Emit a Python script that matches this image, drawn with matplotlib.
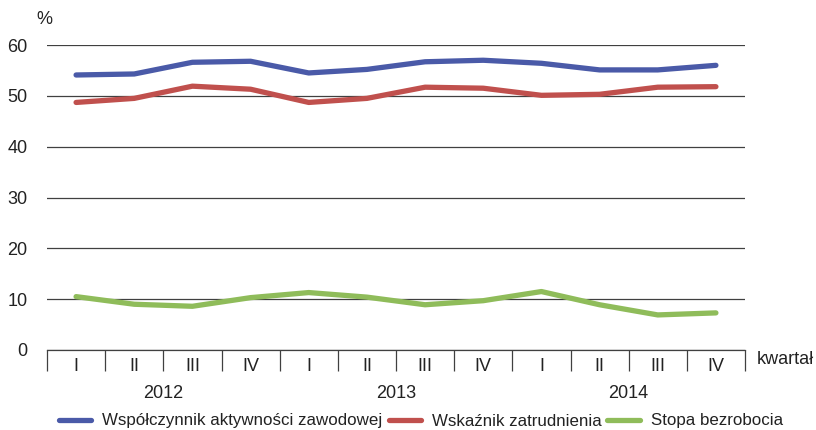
import matplotlib
matplotlib.use("Agg")
import matplotlib.pyplot as plt
import matplotlib.transforms as mtransforms
import numpy as np

plt.rcParams['font.family'] = ['Liberation Sans', 'DejaVu Sans']

quarters = ["I", "II", "III", "IV"] * 3
years = ["2012", "2013", "2014"]

aktywnosc = [54.1, 54.3, 56.6, 56.8, 54.5, 55.2, 56.7, 57.0, 56.4, 55.1, 55.1, 56.0]
zatrudnienie = [48.7, 49.5, 51.9, 51.3, 48.7, 49.5, 51.7, 51.5, 50.1, 50.3, 51.7, 51.8]
bezrobocie = [10.5, 9.0, 8.6, 10.3, 11.3, 10.4, 8.9, 9.7, 11.5, 8.9, 6.9, 7.3]

names = ["Współczynnik aktywności zawodowej", "Wskaźnik zatrudnienia", "Stopa bezrobocia"]
colors = ["#4a5aa8", "#c0504d", "#8fbc5a"]

fig = plt.figure(figsize=(8.16, 4.30), dpi=100)
ax = fig.add_axes([47/816, 1 - 350/430, 698/816, 305/430])

x = np.arange(len(quarters))
for vals, name, c in zip([aktywnosc, zatrudnienie, bezrobocie], names, colors):
    ax.plot(x, vals, color=c, lw=3.8, label=name, solid_capstyle='round', zorder=3)

ax.set_xlim(-0.5, len(quarters) - 0.5)
ax.set_ylim(0, 60)
ax.set_yticks(np.arange(0, 61, 10))
ax.yaxis.grid(True, color="#404040", lw=0.9)
ax.set_axisbelow(True)
ax.tick_params(axis='y', length=0, labelsize=13, pad=14, colors="#222222")

for s in ['top', 'right', 'left']:
    ax.spines[s].set_visible(False)
ax.spines['bottom'].set_color("#404040")
ax.spines['bottom'].set_linewidth(0.9)

# quarter boundaries as major ticks, quarter names as minor ticks
ax.set_xticks(np.arange(-0.5, len(quarters), 1.0))
ax.set_xticklabels([])
ax.tick_params(axis='x', which='major', length=15, width=0.9, color="#404040", direction='out')
ax.set_xticks(x, minor=True)
ax.set_xticklabels(quarters, minor=True)
ax.tick_params(axis='x', which='minor', length=0, pad=6, labelsize=13, labelcolor="#222222")

trans = mtransforms.blended_transform_factory(ax.transData, fig.transFigure)
for i, yr in enumerate(years):
    ax.text(i * 4 + 1.5, 1 - 393/430, yr, transform=trans, ha='center', va='center',
            fontsize=13, color="#222222")

fig.text(757/816, 1 - 359/430, "kwartał", ha='left', va='center', fontsize=13, color="#222222")
fig.text(36/816, 1 - 19/430, "%", ha='left', va='center', fontsize=13, color="#222222")

fig.legend(loc='center', bbox_to_anchor=(421/816, 1 - 421/430), ncol=3, frameon=False,
           fontsize=12.2, handlelength=1.9, handletextpad=0.65, columnspacing=0.35,
           labelcolor="#222222")

fig.savefig("out.png", dpi=100)
